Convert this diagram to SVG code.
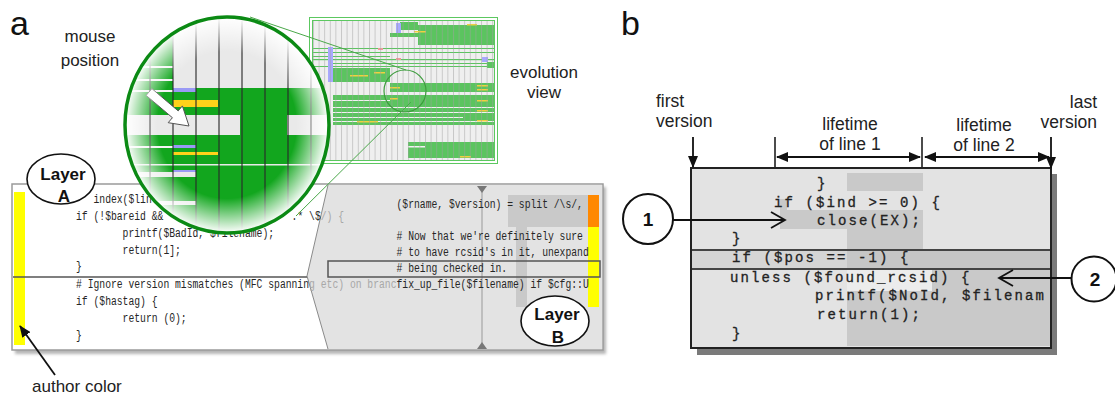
<svg xmlns="http://www.w3.org/2000/svg" width="1115" height="397" viewBox="0 0 1115 397">
<style>
.lbl{font-family:"Liberation Sans",Arial,sans-serif;font-size:17px;fill:#222}
.lblb{font-family:"Liberation Sans",Arial,sans-serif;font-size:17.5px;fill:#222}
.big{font-family:"Liberation Sans",Arial,sans-serif;font-size:34px;fill:#111}
.code{font-family:"Liberation Mono","Courier New",monospace;font-size:12.5px;fill:#262626}
.faded{fill:#a8a8a8}
.bcode{font-family:"Liberation Mono","Courier New",monospace;font-size:14px;letter-spacing:2.1px;fill:#222;stroke:#222;stroke-width:0.3}
.bub{fill:#fff;stroke:#111;stroke-width:1.6}
.bubt{font-family:"Liberation Sans",Arial,sans-serif;font-size:17px;font-weight:bold;fill:#111;text-anchor:middle}
.num{font-family:"Liberation Sans",Arial,sans-serif;font-size:19px;font-weight:bold;fill:#111;text-anchor:middle}
.ln{stroke:#111;stroke-width:1.8;fill:none}
.grn{fill:#5bc45f}
.yel{fill:#f0d040}
.pur{fill:#a8a8ff}
.vl{stroke:#2a2a2a;stroke-opacity:0.75;stroke-width:1.5}
.mid{fill:#c9c9c9}
</style>
<defs>
  <marker id="ah" viewBox="0 0 12 10" refX="11" refY="5" markerWidth="12" markerHeight="10" markerUnits="userSpaceOnUse" orient="auto-start-reverse">
    <path d="M0,0 L12,5 L0,10 z" fill="#111"/>
  </marker>
  <pattern id="cols" x="313" y="0" width="5.6" height="10" patternUnits="userSpaceOnUse">
    <line x1="0.5" y1="0" x2="0.5" y2="10" stroke="#a0a0a0" stroke-width="0.6"/>
  </pattern>
  <clipPath id="lensClip"><ellipse cx="227" cy="125" rx="102" ry="108"/></clipPath>
  <clipPath id="boxClip"><rect x="692" y="169" width="358" height="178"/></clipPath>
  <radialGradient id="fade" cx="0.5" cy="0.5" r="0.5">
    <stop offset="0.68" stop-color="#fff" stop-opacity="0"/>
    <stop offset="0.87" stop-color="#fff" stop-opacity="0.6"/>
    <stop offset="1" stop-color="#fff" stop-opacity="1"/>
  </radialGradient>
  <filter id="soft" x="-5%" y="-5%" width="110%" height="115%"><feGaussianBlur stdDeviation="1.6"/></filter>
</defs>

<rect width="1115" height="397" fill="#fff"/>

<!-- panel letters -->
<text class="big" x="10" y="35">a</text>
<text class="big" x="621" y="35">b</text>

<!-- ===== panel a: code window with two layers ===== -->
<g id="codeWindow">
  <rect x="15" y="187" width="591" height="167" fill="#b5b5b5" filter="url(#soft)"/>
  <rect x="12" y="184" width="591" height="166" fill="#fff" stroke="#9a9a9a" stroke-width="1.5"/>
  <!-- layer B overlay -->
  <polygon points="328,185 307,276 328,349 602,349 602,185" fill="#e3e3e3"/>
  <polyline points="328,185 307,276 328,349" fill="none" stroke="#8a8a8a" stroke-width="1"/>
  <rect x="508" y="195" width="80" height="32" class="mid"/>
  <rect x="516" y="227" width="11" height="80" class="mid"/>
  <!-- author colour bars -->
  <rect x="14" y="192" width="11" height="153" fill="#ffff00"/>
  <rect x="588" y="195" width="11" height="32" fill="#ff8800"/>
  <rect x="588" y="227" width="11" height="80" fill="#ffff00"/>
  <!-- time cursor -->
  <line x1="482" y1="190" x2="482" y2="344" stroke="#999" stroke-width="1"/>
  <polygon points="477,186 487,186 482,193" fill="#777"/>
  <polygon points="477,349 487,349 482,342" fill="#777"/>
  <!-- block separator and selected line -->
  <line x1="13" y1="277" x2="307" y2="277" stroke="#555" stroke-width="1.5"/>
  <rect x="328" y="261" width="272" height="16" fill="none" stroke="#555" stroke-width="1.5"/>
  <!-- layer A code (condensed monospace) -->
  <g transform="translate(76,0) scale(0.777,1)" class="code">
    <text x="22.5" y="203">index($lin</text>
    <text x="0" y="220">if (!$bareid &amp;&amp; </text>
    <text x="277.5" y="220">.* \$</text>
    <text x="315" y="220" class="faded">/) {</text>
    <text x="60" y="237">printf($BadId, $filename);</text>
    <text x="60" y="254">return(1];</text>
    <text x="0" y="270">}</text>
    <text x="0" y="288"># Ignore version mismatches (MFC spannin</text>
    <text x="300" y="288" class="faded">g etc) on branc</text>
    <text x="0" y="305">if ($hastag) {</text>
    <text x="60" y="322">return (0);</text>
    <text x="0" y="339">}</text>
    <!-- layer B code -->
    <text x="412.5" y="208">($rname, $version) = split /\s/,</text>
    <text x="412.5" y="240"># Now that we're definitely sure</text>
    <text x="412.5" y="256"># to have rcsid's in it, unexpand</text>
    <text x="412.5" y="272"># being checked in.</text>
    <text x="412.5" y="288">fix_up_file($filename) if $cfg::U</text>
  </g>
</g>

<!-- ===== panel a: evolution view ===== -->
<g id="evolutionView">
  <rect x="313" y="20" width="181" height="140" fill="#efefef"/>
  <rect x="400" y="22" width="18" height="8" class="grn"/>
  <rect x="390" y="33" width="47" height="4" class="grn"/>
  <rect x="418" y="25" width="77" height="20" class="grn"/>
  <rect x="313" y="48" width="181" height="1" class="grn"/>
  <rect x="313" y="52" width="181" height="1" class="grn"/>
  <rect x="313" y="56" width="77" height="1" class="grn"/>
  <rect x="313" y="59" width="181" height="1.2" class="grn"/>
  <rect x="333" y="63" width="161" height="1" class="grn"/>
  <rect x="313" y="66" width="181" height="1" class="grn"/>
  <rect x="487" y="62" width="8" height="6" class="grn"/>
  <rect x="333" y="68" width="57" height="14" class="grn"/>
  <rect x="390" y="83" width="105" height="9" class="grn"/>
  <rect x="333" y="95" width="162" height="30" class="grn"/>
  <rect x="333" y="100" width="57" height="1" fill="#f2f2f2"/>
  <rect x="313" y="107" width="181" height="1" fill="#f2f2f2"/>
  <rect x="333" y="112" width="162" height="1" fill="#f2f2f2"/>
  <rect x="333" y="117" width="130" height="1" fill="#f2f2f2"/>
  <rect x="333" y="121" width="162" height="1" fill="#f2f2f2"/>
  <rect x="408" y="142" width="87" height="16" class="grn"/>
  <rect x="408" y="146" width="17" height="1.5" fill="#f2f2f2"/>
  <rect x="396" y="23" width="5" height="10" class="pur"/>
  <rect x="328" y="47" width="5" height="35" class="pur"/>
  <rect x="482" y="57" width="6" height="5" class="pur"/>
  <rect x="378" y="48" width="5" height="2" fill="#f09a9a"/>
  <rect x="396" y="58" width="5" height="2" fill="#f09a9a"/>
  <rect x="467" y="24" width="10" height="1.5" class="yel"/>
  <rect x="414" y="31" width="12" height="1.5" class="yel"/>
  <rect x="374" y="72" width="11" height="1.5" class="yel"/>
  <rect x="350" y="75" width="18" height="1.5" class="yel"/>
  <rect x="390" y="87" width="10" height="1.5" class="yel"/>
  <rect x="390" y="98" width="8" height="1.5" class="yel"/>
  <rect x="477" y="85" width="11" height="1.5" class="yel"/>
  <rect x="477" y="89" width="11" height="1.5" class="yel"/>
  <rect x="477" y="100" width="11" height="1.5" class="yel"/>
  <rect x="477" y="110" width="11" height="1.5" class="yel"/>
  <rect x="477" y="120" width="11" height="1.5" class="yel"/>
  <rect x="357" y="121" width="21" height="1.5" class="yel"/>
  <rect x="460" y="156" width="11" height="1.5" class="yel"/>
  <rect x="313" y="20" width="181" height="140" fill="url(#cols)" opacity="0.85"/>
  <rect x="309.5" y="17.5" width="188" height="146" fill="none" stroke="#5cc860" stroke-width="1"/>
  <rect x="312.5" y="20.5" width="182" height="140" fill="none" stroke="#5cc860" stroke-width="1"/>
  <circle cx="405" cy="91" r="21" fill="none" stroke="#3c9c3c" stroke-width="1.2"/>
</g>

<!-- lens projection lines -->
<g id="connectors">
  <line x1="250" y1="17" x2="406" y2="70" stroke="#4aa84a" stroke-width="1"/>
  <line x1="411" y1="102" x2="296" y2="216" stroke="#4aa84a" stroke-width="1"/>
</g>

<!-- ===== magnifying lens ===== -->
<g id="lens">
  <g clip-path="url(#lensClip)">
    <rect x="120" y="12" width="215" height="230" fill="#12a61e"/>
    <rect x="173" y="12" width="162" height="76" fill="#e9e9e9"/>
    <rect x="120" y="66" width="53" height="2" fill="#f4f4f4"/>
    <rect x="120" y="79" width="53" height="2" fill="#f4f4f4"/>
    <rect x="120" y="90" width="53" height="2" fill="#f4f4f4"/>
    <rect x="120" y="115" width="120" height="20" fill="#e9e9e9"/>
    <rect x="287" y="115" width="48" height="20" fill="#e9e9e9"/>
    <rect x="173" y="88" width="23" height="4" fill="#9a9af5"/>
    <rect x="173" y="100" width="45" height="7" fill="#ffd21a"/>
    <rect x="120" y="146" width="53" height="2" fill="#f4f4f4"/>
    <rect x="173" y="145" width="23" height="3" fill="#9a9af5"/>
    <rect x="173" y="152" width="45" height="3" fill="#ffd21a"/>
    <rect x="120" y="164" width="215" height="1.5" fill="#e9e9e9"/>
    <rect x="173" y="170" width="23" height="2" fill="#9a9af5"/>
    <rect x="128" y="172" width="68" height="5" fill="#e9e9e9"/>
    <rect x="150" y="201" width="46" height="4" fill="#e9e9e9"/>
    <line class="vl" x1="150" y1="12" x2="150" y2="240"/>
    <line class="vl" x1="173" y1="12" x2="173" y2="240"/>
    <line class="vl" x1="196" y1="12" x2="196" y2="240"/>
    <line class="vl" x1="219" y1="12" x2="219" y2="240"/>
    <line class="vl" x1="242" y1="12" x2="242" y2="240"/>
    <line class="vl" x1="265" y1="12" x2="265" y2="240"/>
    <line class="vl" x1="288" y1="12" x2="288" y2="240"/>
    <line class="vl" x1="311" y1="12" x2="311" y2="240"/>
    <!-- mouse cursor -->
    <polygon points="146.1,95.4 151.9,88.6 178.2,110.9 182.4,105.9 189,126 168.2,122.7 172.4,117.7" fill="#fff" stroke="#555" stroke-width="1"/>
    <ellipse cx="227" cy="125" rx="102" ry="108" fill="url(#fade)"/>
  </g>
  <ellipse cx="227" cy="125" rx="102" ry="108" fill="none" stroke="#0b8a14" stroke-width="3.5"/>
</g>

<!-- ===== panel a: labels ===== -->
<g id="layerA">
  <ellipse class="bub" cx="61" cy="179" rx="34" ry="25"/>
  <text class="bubt" x="63" y="180">Layer</text>
  <text class="bubt" x="64" y="202">A</text>
</g>
<g id="layerB">
  <ellipse class="bub" cx="555" cy="321" rx="34" ry="25"/>
  <text class="bubt" x="557" y="320">Layer</text>
  <text class="bubt" x="558" y="343">B</text>
</g>
<g id="mouseLabel">
  <text class="lbl" x="90" y="42" text-anchor="middle">mouse</text>
  <text class="lbl" x="90" y="66" text-anchor="middle">position</text>
</g>
<g id="evolutionLabel">
  <text class="lbl" x="544" y="78" text-anchor="middle">evolution</text>
  <text class="lbl" x="544" y="98" text-anchor="middle">view</text>
</g>
<g id="authorLabel">
  <text class="lbl" x="32" y="392">author color</text>
</g>
<g id="authorArrow">
  <line class="ln" x1="55" y1="375" x2="20" y2="326" marker-end="url(#ah)"/>
</g>

<!-- ===== panel b: line lifetimes ===== -->
<g id="codeBox">
  <rect x="697" y="174" width="360" height="181" fill="#7a7a7a"/>
  <rect x="691" y="168" width="360" height="180" fill="#e3e3e3"/>
  <g clip-path="url(#boxClip)">
    <rect x="847" y="173" width="76" height="18" class="mid"/>
    <rect x="780" y="199" width="7" height="11" class="mid"/>
    <rect x="780" y="210" width="143" height="19" class="mid"/>
    <rect x="847" y="229" width="76" height="21" class="mid"/>
    <rect x="692" y="251" width="155" height="17" fill="#d5d5d5"/>
    <rect x="847" y="251" width="204" height="17" fill="#c6c6c6"/>
    <rect x="847" y="270" width="85" height="21" fill="#ececec"/>
    <rect x="932" y="270" width="119" height="21" class="mid"/>
    <rect x="847" y="291" width="204" height="55" class="mid"/>
    <line x1="691" y1="250" x2="1051" y2="250" stroke="#444" stroke-width="2"/>
    <line x1="691" y1="269" x2="1051" y2="269" stroke="#444" stroke-width="2"/>
    <text class="bcode" x="817" y="188">}</text>
    <text class="bcode" x="774" y="207">if ($ind &gt;= 0) {</text>
    <text class="bcode" x="817" y="225">close(EX);</text>
    <text class="bcode" x="732" y="243">}</text>
    <text class="bcode" x="732" y="262">if ($pos == -1) {</text>
    <text class="bcode" x="730" y="282">unless ($found_rcsid) {</text>
    <text class="bcode" x="815" y="300">printf($NoId, $filenam</text>
    <text class="bcode" x="817" y="319">return(1);</text>
    <text class="bcode" x="732" y="338">}</text>
  </g>
  <rect x="691" y="168" width="360" height="180" fill="none" stroke="#222" stroke-width="2"/>
</g>

<g id="versionLabels">
  <text class="lblb" x="656" y="107">first</text>
  <text class="lblb" x="656" y="127">version</text>
  <text class="lblb" x="1097" y="108" text-anchor="end">last</text>
  <text class="lblb" x="1097" y="128" text-anchor="end">version</text>
  <text class="lblb" x="850" y="130" text-anchor="middle">lifetime</text>
  <text class="lblb" x="850" y="150" text-anchor="middle">of line 1</text>
  <text class="lblb" x="984" y="131" text-anchor="middle">lifetime</text>
  <text class="lblb" x="984" y="151" text-anchor="middle">of line 2</text>
</g>

<g id="marker1">
  <circle cx="648" cy="219" r="25" fill="#fff" stroke="#111" stroke-width="2"/>
  <text class="num" x="648" y="226">1</text>
</g>
<g id="marker2">
  <circle cx="1094" cy="279" r="22.5" fill="#fff" stroke="#111" stroke-width="2"/>
  <text class="num" x="1095" y="286">2</text>
</g>

<g id="dimensionLines">
  <line class="ln" x1="693" y1="137" x2="693" y2="167" marker-end="url(#ah)"/>
  <line class="ln" x1="1051" y1="137" x2="1051" y2="168" marker-end="url(#ah)"/>
  <line x1="775" y1="137" x2="775" y2="167" stroke="#111" stroke-width="1.5"/>
  <line x1="922" y1="137" x2="922" y2="167" stroke="#111" stroke-width="1.5"/>
  <line class="ln" x1="777" y1="157" x2="920" y2="157" marker-start="url(#ah)" marker-end="url(#ah)"/>
  <line class="ln" x1="925" y1="157" x2="1049" y2="157" marker-start="url(#ah)" marker-end="url(#ah)"/>
  <line class="ln" x1="673" y1="220" x2="784" y2="220" stroke-width="2.2"/>
  <polyline class="ln" points="771,212 785,220 771,228" stroke-width="2.4"/>
  <line class="ln" x1="1071" y1="278" x2="1000" y2="278" stroke-width="2.2"/>
  <polyline class="ln" points="1013,270 999,278 1013,286" stroke-width="2.4"/>
</g>
</svg>
